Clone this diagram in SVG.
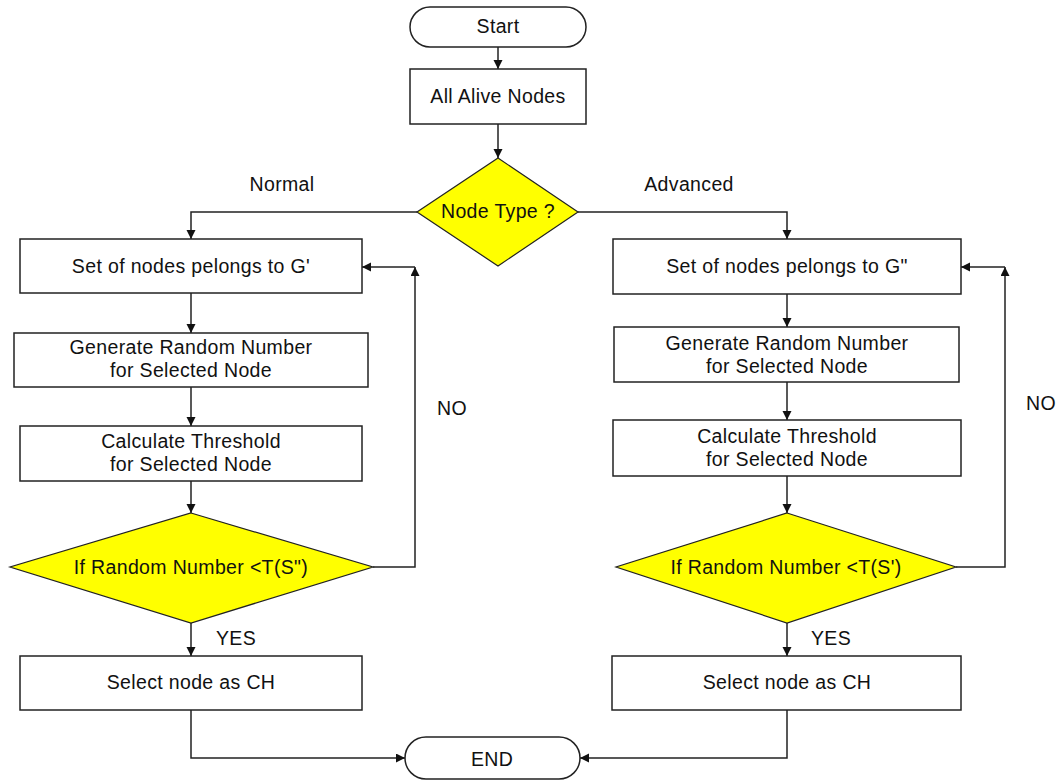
<svg xmlns="http://www.w3.org/2000/svg" width="1061" height="780" viewBox="0 0 1061 780">
  <style>
    .box { fill: #ffffff; stroke: #222222; stroke-width: 1.5; }
    .dec { fill: #ffff00; stroke: #222222; stroke-width: 1.2; }
    .edge { fill: none; stroke: #222222; stroke-width: 1.5; }
    text { font-family: "Liberation Sans", Arial, sans-serif; font-size: 19.5px; letter-spacing: 0.35px; fill: #111111; text-anchor: middle; }
    .lbl { text-anchor: start; }
  </style>
  <defs>
    <marker id="arrow" markerUnits="userSpaceOnUse" markerWidth="10" markerHeight="10" refX="9" refY="4.5" orient="auto">
      <path d="M0,0 L9,4.5 L0,9 Z" fill="#111111"/>
    </marker>
  </defs>
  <rect width="1061" height="780" fill="#ffffff"/>

  <g id="connectors">
    <path class="edge" d="M498,47 L498,69" marker-end="url(#arrow)"/>
    <path class="edge" d="M498,124 L498,158" marker-end="url(#arrow)"/>
    <path class="edge" d="M417,212 L191,212 L191,239" marker-end="url(#arrow)"/>
    <path class="edge" d="M578,212 L787,212 L787,239" marker-end="url(#arrow)"/>
    <!-- left branch -->
    <path class="edge" d="M191,293 L191,333" marker-end="url(#arrow)"/>
    <path class="edge" d="M191,387 L191,426" marker-end="url(#arrow)"/>
    <path class="edge" d="M191,481 L191,513" marker-end="url(#arrow)"/>
    <path class="edge" d="M373,567 L415,567 L415,267" marker-end="url(#arrow)"/>
    <path class="edge" d="M415,267 L362,267" marker-end="url(#arrow)"/>
    <path class="edge" d="M191,623 L191,656" marker-end="url(#arrow)"/>
    <path class="edge" d="M191,710 L191,758 L405,758" marker-end="url(#arrow)"/>
    <!-- right branch -->
    <path class="edge" d="M787,294 L787,327" marker-end="url(#arrow)"/>
    <path class="edge" d="M787,382 L787,420" marker-end="url(#arrow)"/>
    <path class="edge" d="M787,476 L787,513" marker-end="url(#arrow)"/>
    <path class="edge" d="M956,567 L1005,567 L1005,267" marker-end="url(#arrow)"/>
    <path class="edge" d="M1005,267 L961,267" marker-end="url(#arrow)"/>
    <path class="edge" d="M787,623 L787,656" marker-end="url(#arrow)"/>
    <path class="edge" d="M787,710 L787,758 L580,758" marker-end="url(#arrow)"/>
    <!-- edge labels -->
    <text x="282" y="191">Normal</text>
    <text x="689" y="191">Advanced</text>
    <text x="452" y="415">NO</text>
    <text x="1041" y="410">NO</text>
    <text x="236" y="645">YES</text>
    <text x="831" y="645">YES</text>
  </g>

  <g id="start">
    <rect class="box" x="410" y="7" width="176" height="40" rx="20"/>
    <text x="498" y="33">Start</text>
  </g>
  <g id="all-alive">
    <rect class="box" x="410" y="69" width="176" height="55"/>
    <text x="498" y="103">All Alive Nodes</text>
  </g>
  <g id="node-type">
    <polygon class="dec" points="498,158 578,212 498,266 417,212"/>
    <text x="498" y="218">Node Type ?</text>
  </g>

  <g id="set-g1">
    <rect class="box" x="20" y="239" width="342" height="54"/>
    <text x="191" y="273">Set of nodes pelongs to G'</text>
  </g>
  <g id="random-g1">
    <rect class="box" x="14" y="333" width="354" height="54"/>
    <text x="191" y="354">Generate Random Number</text>
    <text x="191" y="377">for Selected Node</text>
  </g>
  <g id="threshold-g1">
    <rect class="box" x="20" y="426" width="342" height="55"/>
    <text x="191" y="448">Calculate Threshold</text>
    <text x="191" y="471">for Selected Node</text>
  </g>
  <g id="check-g1">
    <polygon class="dec" points="191,513 373,567 191,623 10,567"/>
    <text x="191" y="574">If Random Number &lt;T(S")</text>
  </g>
  <g id="ch-g1">
    <rect class="box" x="20" y="656" width="342" height="54"/>
    <text x="191" y="689">Select node as CH</text>
  </g>

  <g id="set-g2">
    <rect class="box" x="613" y="239" width="348" height="55"/>
    <text x="787" y="273">Set of nodes pelongs to G"</text>
  </g>
  <g id="random-g2">
    <rect class="box" x="614" y="327" width="345" height="55"/>
    <text x="787" y="350">Generate Random Number</text>
    <text x="787" y="373">for Selected Node</text>
  </g>
  <g id="threshold-g2">
    <rect class="box" x="613" y="420" width="348" height="56"/>
    <text x="787" y="443">Calculate Threshold</text>
    <text x="787" y="466">for Selected Node</text>
  </g>
  <g id="check-g2">
    <polygon class="dec" points="787,513 956,567 787,623 616,567"/>
    <text x="786" y="574">If Random Number &lt;T(S')</text>
  </g>
  <g id="ch-g2">
    <rect class="box" x="612" y="656" width="349" height="54"/>
    <text x="787" y="689">Select node as CH</text>
  </g>

  <g id="end">
    <rect class="box" x="405" y="737" width="175" height="42" rx="21"/>
    <text x="492" y="766">END</text>
  </g>
</svg>
